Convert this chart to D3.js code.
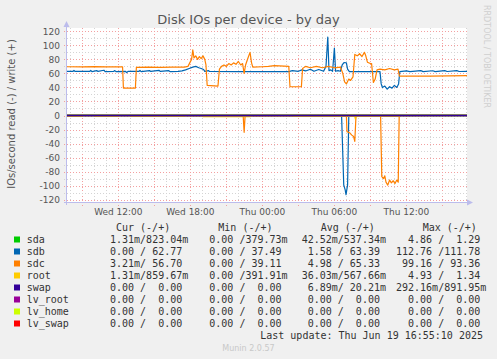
<!DOCTYPE html>
<html>
<head>
<meta charset="utf-8">
<script src="https://cdn.jsdelivr.net/npm/d3@7"></script>
<style>
body { margin: 0; background: #f0f0f0; }
svg { display: block; }
text { font-family: "DejaVu Sans", sans-serif; }
.mono { font-family: "DejaVu Sans Mono", monospace; font-size: 10px; fill: #333; white-space: pre; }
</style>
</head>
<body>
<svg width="497" height="359"></svg>
<script>
// time is given in hours since Wed 18 Jun 2025 00:00
var timeStart = 7.72, timeEnd = 41.05;
var xTickHours = [12, 18, 24, 30, 36];
var xTickLabels = ["Wed 12:00", "Wed 18:00", "Thu 00:00", "Thu 06:00", "Thu 12:00"];
var yTicks = [-120, -100, -80, -60, -40, -20, 0, 20, 40, 60, 80, 100, 120];

// write (+) values
var sdbWrite = [[7.72,62.8],[8.2,62.8],[8.3,64.2],[8.4,62.8],[9.6,62.8],[9.7,64.2],[9.8,62.6],[10.2,64],[10.3,62.8],
  [10.8,64.5],[10.9,62.6],[11.6,62.8],[11.7,64],[11.8,62.6],[12.6,62.8],[12.7,61],[12.8,62.8],[13.7,62.8],[13.8,64.2],
  [13.9,62.6],[14.6,64],[14.7,62.8],[15.4,64.3],[15.5,62.8],[16.2,64],[16.3,62.6],[17.0,62.8],[17.3,63.5],[17.6,65],
  [17.9,67],[18.2,69],[18.45,70],[18.7,68],[18.9,67],[19.1,65.5],[19.2,62.8],[19.5,64],[19.6,62.8],[22,62.6],[24,62.6],
  [26.2,62.6],[26.5,64],[27,63],[27.3,65],[27.6,63.5],[28,66],[28.3,63],[28.7,65.5],[29.1,63],[29.3,70],[29.45,111.8],
  [29.55,64],[29.7,65],[29.85,63],[30.0,96],[30.1,63],[30.3,64],[30.5,63],[30.65,72],[30.8,75.5],[31.0,75],[31.1,66],
  [31.25,62.5],[33.8,62.6],[33.9,45],[34.0,40],[34.2,42],[34.4,37.5],[34.6,41],[34.8,39],[35.0,43],
  [35.2,40],[35.35,45],[35.45,62.6],[36,63.5],[36.3,62.6],[37.2,64],[37.4,62.6],[38.2,63.8],[38.4,62.6],[39.2,64],
  [39.4,62.7],[40.2,64],[40.4,62.7],[41.05,62.77]];
var sdcWrite = [[7.72,69.5],[9,69.2],[10,69.6],[11,69.3],[12.35,69.4],[12.42,39.1],[13.42,39.1],[13.5,68.5],[14.5,68.8],
  [15.5,68.6],[16.5,68.9],[17.5,69],[17.8,70],[17.95,75],[18.1,80],[18.2,93.4],[18.3,82],[18.45,85],[18.6,80],[18.75,84],
  [18.9,81],[19.05,85],[19.2,80],[19.3,72],[19.4,43],[20.3,42],[20.42,66],[20.6,70],[20.8,72],[21.0,70],[21.2,74],
  [21.4,72],[21.6,75],[21.8,73],[22.0,77],[22.2,72],[22.35,74],[22.48,60],[22.6,72],[22.8,82],[22.97,90],[23.1,75],
  [23.2,69],[24,69.5],[24.5,70],[25,71],[26.2,70],[26.3,41],[27.25,41],[27.35,67],[27.6,70],[28,68],[28.5,70],[29,68],
  [29.5,70],[30,68],[30.5,69],[30.7,60],[30.85,48],[31.0,45],[31.2,52],[31.35,50],[31.55,55],[31.7,87],[31.9,85],
  [32.1,88],[32.3,84],[32.5,90],[32.6,86],[32.75,76],[33.0,74],[33.1,74],[33.25,47],[33.4,52],[33.55,65],[33.8,66],
  [34.2,65],[34.6,67],[35,65],[35.3,66],[35.42,56],[36,56],[38,56],[41.05,56.7]];
var sdaWrite = [[7.72,0.5],[41.05,0.5]];
var rootWrite = [[7.72,0.6],[41.05,0.6]];
var swapWrite = [[7.72,0],[41.05,0]];

// read (-) values
var sdbRead = [[7.72,0],[30.6,0],[30.78,99],[30.9,106],[30.97,112.8],[31.1,99],[31.2,0],[41.05,0]];
var sdcRead = [[7.72,0.3],[22.4,0.5],[22.48,24],[22.56,0.5],[31.0,0.3],[31.05,23],[31.3,25],[31.45,28],[31.6,30],
  [31.7,37],[31.8,0.3],[33.85,0.3],[33.95,87],[34.1,90],[34.2,86],[34.3,95],[34.45,99.2],[34.6,92],[34.75,96],
  [34.9,93],[35.05,97],[35.2,92],[35.32,95],[35.4,0.3],[41.05,0]];
var sdaRead = [[7.72,0.1],[41.05,0.1]];
var rootRead = [[7.72,1.2],[9,1.2],[9.05,0.2],[10,0.2],[10.05,1.2],[12,1.2],[12.05,0.2],[13,0.2],[13.05,1.2],[17.5,1.2],
  [17.55,0.3],[19,0.3],[19.05,1.5],[23,1.5],[23.05,0.2],[26.5,0.2],[26.55,1.2],[31.7,1.2],[31.75,5],[31.8,1.2],
  [35.4,1.2],[35.45,0.1],[41.05,0.1]];
var swapRead = [[7.72,0],[41.05,0]];

var legendNames = ["sda", "sdb", "sdc", "root", "swap", "lv_root", "lv_home", "lv_swap"];
var legendColors = ["#00cc00", "#0066b3", "#ff8000", "#ffcc00", "#330099", "#990099", "#ccff00", "#ff0000"];
var curValues = ["1.31m/823.04m", "0.00 / 62.77", "3.21m/ 56.70", "1.31m/859.67m", "0.00 /  0.00", "0.00 /  0.00", "0.00 /  0.00", "0.00 /  0.00"];
var minValues = ["0.00 /379.73m", "0.00 / 37.49", "0.00 / 39.11", "0.00 /391.91m", "0.00 /  0.00", "0.00 /  0.00", "0.00 /  0.00", "0.00 /  0.00"];
var avgValues = ["42.52m/537.34m", " 1.58 / 63.39", " 4.98 / 65.33", "36.03m/567.66m", " 6.89m/ 20.21m", " 0.00 /  0.00", " 0.00 /  0.00", " 0.00 /  0.00"];
var maxValues = ["  4.86 /  1.29", "112.76 /111.78", " 99.16 / 93.36", "  4.93 /  1.34", "292.16m/891.95m", "  0.00 /  0.00", "  0.00 /  0.00", "  0.00 /  0.00"];

var svg = d3.select("svg");
var base = new Date(2025, 5, 18, 0, 0).getTime();
function hd(h) { return new Date(base + h * 3600000); }

var x = d3.scaleTime().domain([hd(timeStart), hd(timeEnd)]).range([67, 467]);
var y = d3.scaleLinear().domain([-124.7, 124.7]).range([203, 28]);

// plot background
svg.append("rect").attr("x", 67).attr("y", 28).attr("width", 400).attr("height", 175).attr("fill", "#fff");

var grid = svg.append("g");
// minor grid
x.ticks(d3.timeHour.every(1)).forEach(function(t) {
	var major = t.getHours() % 3 === 0;
	grid.append("line")
		.attr("x1", Math.round(x(t)) + 0.5).attr("x2", Math.round(x(t)) + 0.5)
		.attr("y1", 28).attr("y2", major ? 206 : 205)
		.attr("stroke", major ? "#f3a0a0" : "#d4d4d4")
		.attr("stroke-dasharray", "1,2");
});
d3.range(-120, 121, 10).forEach(function(v) {
	var major = v % 20 === 0;
	grid.append("line")
		.attr("x1", 64).attr("x2", 467)
		.attr("y1", Math.round(y(v)) + 0.5).attr("y2", Math.round(y(v)) + 0.5)
		.attr("stroke", major ? "#f3a0a0" : "#d4d4d4")
		.attr("stroke-dasharray", "1,2");
});

var line = d3.line().x(function(d) { return x(hd(d[0])); }).y(function(d) { return y(d[1]); });
var lineNeg = d3.line().x(function(d) { return x(hd(d[0])); }).y(function(d) { return y(-d[1]); });

var lines = svg.append("g").attr("fill", "none").attr("stroke-width", 1.2).attr("stroke-linejoin", "round");
function draw(data, gen, color, w) {
	lines.append("path").attr("d", gen(data)).attr("stroke", color).attr("stroke-width", w || 1.2);
}
draw(sdaRead, lineNeg, legendColors[0]);
draw(sdaWrite, line, legendColors[0]);
draw(sdbRead, lineNeg, legendColors[1]);
draw(sdbWrite, line, legendColors[1]);
draw(sdcRead, lineNeg, legendColors[2]);
draw(sdcWrite, line, legendColors[2]);
draw(rootRead, lineNeg, legendColors[3]);
draw(rootWrite, line, legendColors[3]);
draw(swapRead, lineNeg, legendColors[4], 1.5);
draw(swapWrite, line, legendColors[4], 1.5);

// axes
var axisColor = "#bcbcec";
svg.append("line").attr("x1", 66.5).attr("x2", 66.5).attr("y1", 205).attr("y2", 24).attr("stroke", axisColor);
svg.append("path").attr("d", "M63.5,27L69.5,27L66.5,21Z").attr("fill", axisColor);
svg.append("line").attr("x1", 64).attr("x2", 468).attr("y1", 202.5).attr("y2", 202.5).attr("stroke", axisColor);
svg.append("path").attr("d", "M467,199.5L467,205.5L473,202.5Z").attr("fill", axisColor);

// tick labels
svg.append("g").selectAll("text").data(yTicks).enter().append("text")
	.attr("x", 60).attr("y", function(d) { return y(d) + 3.3; })
	.attr("text-anchor", "end").attr("font-size", 9).attr("fill", "#555")
	.text(function(d) { return d; });
svg.append("g").selectAll("text").data(xTickHours).enter().append("text")
	.attr("x", function(d) { return x(hd(d)); }).attr("y", 215)
	.attr("text-anchor", "middle").attr("font-size", 9).attr("fill", "#555")
	.text(function(d, i) { return xTickLabels[i]; });

// titles
svg.append("text").attr("x", 248.5).attr("y", 24).attr("text-anchor", "middle")
	.attr("font-size", 13).attr("fill", "#555").text("Disk IOs per device - by day");
svg.append("text").attr("transform", "translate(14.5,114) rotate(-90)").attr("text-anchor", "middle")
	.attr("font-size", 10).attr("fill", "#555").text("IOs/second read (-) / write (+)");
svg.append("text").attr("transform", "translate(484,5) rotate(90)").attr("text-anchor", "start")
	.attr("font-size", 8).attr("fill", "#cfcfcf").text("RRDTOOL / TOBI OETIKER");

// legend
var legend = svg.append("g");
[["Cur (-/+)", 116], ["Min (-/+)", 218.3], ["Avg (-/+)", 320.7], ["Max (-/+)", 422.7]].forEach(function(h) {
	legend.append("text").attr("class", "mono").attr("x", h[1]).attr("y", 231.3).text(h[0]);
});
legendNames.forEach(function(name, i) {
	var cy = 239.5 + i * 12;
	legend.append("rect").attr("x", 14).attr("y", cy - 3).attr("width", 6).attr("height", 6).attr("fill", legendColors[i]);
	legend.append("text").attr("class", "mono").attr("x", 26.7).attr("y", cy + 3.6).text(name);
	legend.append("text").attr("class", "mono").attr("x", 110).attr("y", cy + 3.6).text(curValues[i]);
	legend.append("text").attr("class", "mono").attr("x", 209.3).attr("y", cy + 3.6).text(minValues[i]);
	legend.append("text").attr("class", "mono").attr("x", 301.7).attr("y", cy + 3.6).text(avgValues[i]);
	legend.append("text").attr("class", "mono").attr("x", 396).attr("y", cy + 3.6).text(maxValues[i]);
});
legend.append("text").attr("class", "mono").attr("x", 483).attr("y", 339.3).attr("text-anchor", "end")
	.text("Last update: Thu Jun 19 16:55:10 2025");
svg.append("text").attr("x", 248.5).attr("y", 351).attr("text-anchor", "middle")
	.attr("font-size", 8).attr("fill", "#c8c8c8").text("Munin 2.0.57");
</script>
</body>
</html>
